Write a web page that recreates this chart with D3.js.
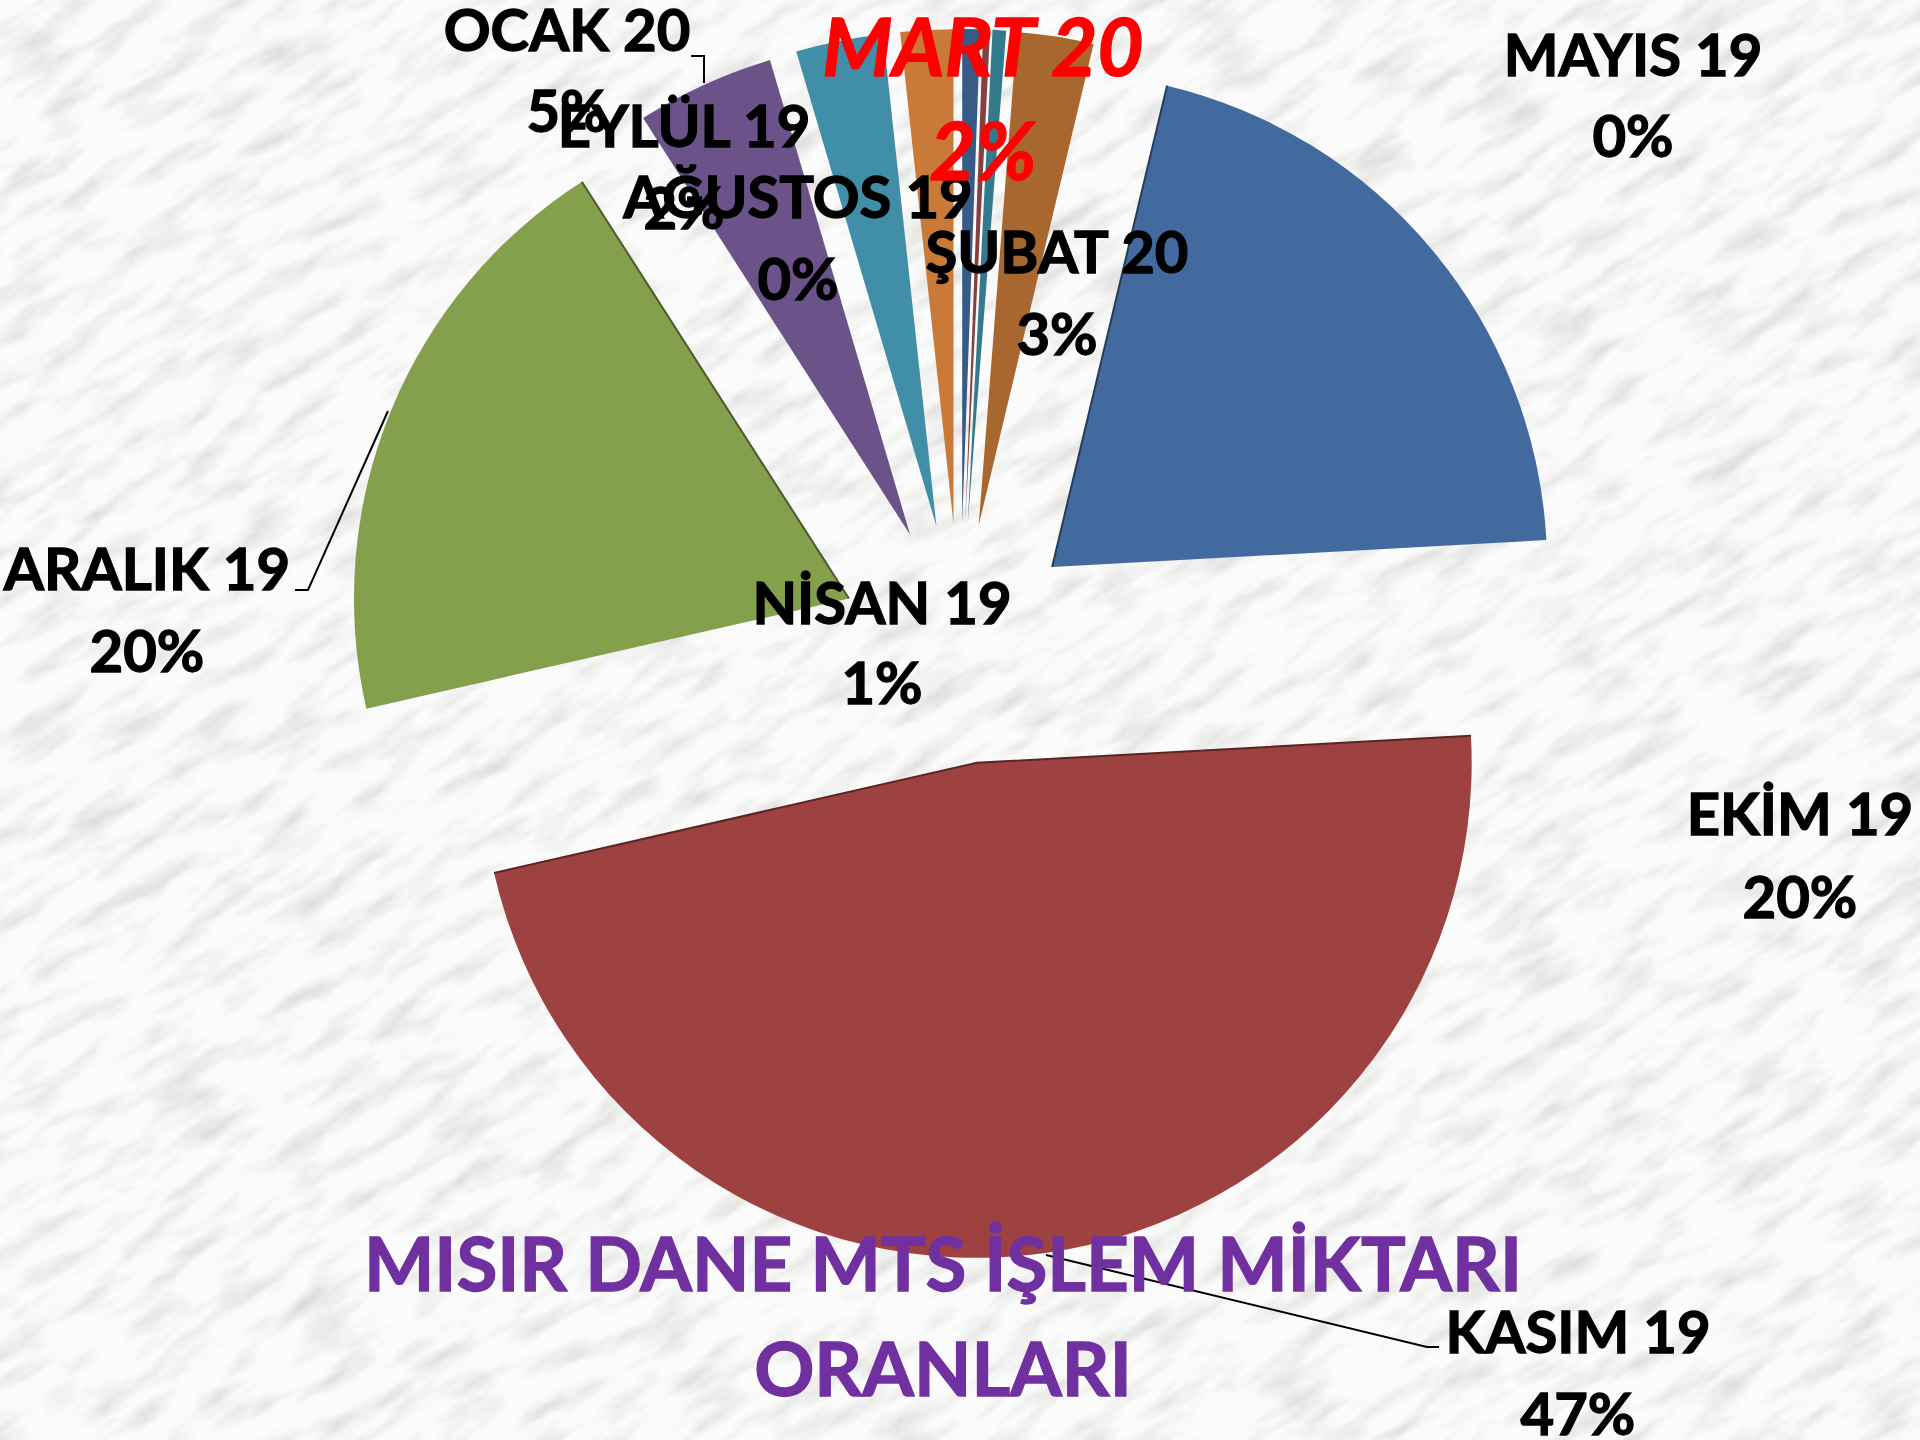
<!DOCTYPE html>
<html>
<head>
<meta charset="utf-8">
<script src="https://cdn.jsdelivr.net/npm/d3@7"></script>
<style>
  html, body { margin: 0; padding: 0; background: #f8f8f7; }
  svg { display: block; }
  text { font-family: Lato, "Open Sans", sans-serif; font-weight: 700; text-anchor: middle; }
</style>
</head>
<body>
<svg id="chart" width="1920" height="1440"></svg>
<script>
// chart data, clockwise from 12 o'clock
const months = ["NİSAN 19", "MAYIS 19", "AĞUSTOS 19", "EYLÜL 19", "EKİM 19", "KASIM 19", "ARALIK 19", "OCAK 20", "ŞUBAT 20", "MART 20"];
const shares = [0.58, 0.22, 0.44, 2.49, 20.4, 47.3, 19.5, 4.5, 2.85, 1.72];
const sliceColors = ["#375a87", "#843f3f", "#347a8d", "#a8672e", "#436a9e", "#9e4141", "#84a04c", "#6b5288", "#418ea8", "#ca7a38"];
const titleLines = ["MISIR DANE MTS İŞLEM MİKTARI", "ORANLARI"];

// label placement: [centre x, baseline of month, baseline of percent]
const labelPos = [
    [882, 624, 704],
    [1633, 76, 157],
    [798, 218, 300],
    [684, 147, 229],
    [1800, 835, 918],
    [1578, 1353, 1435],
    [147, 590, 672],
    [567, 51, 132],
    [1057, 273, 355],
    [983, 76, 180]
];

const leaders = [
    [[691, 56], [704, 56], [704, 83]],
    [[295, 590], [308, 590], [388, 411]],
    [[1439, 1347], [1427, 1347], [1046, 1255]]
];

const cx = 960, cy = 644;
const radius = 495;
const explode = 120;   // every slice is pulled out by the same distance

const svg = d3.select("#chart");

// marble background
const defs = svg.append("defs");
const marble = defs.append("filter")
    .attr("id", "marble")
    .attr("x", 0).attr("y", 0).attr("width", "100%").attr("height", "100%")
    .attr("color-interpolation-filters", "sRGB");
marble.append("feTurbulence")
    .attr("type", "fractalNoise")
    .attr("baseFrequency", "0.014 0.05")
    .attr("numOctaves", 5)
    .attr("seed", 11);
marble.append("feColorMatrix")
    .attr("type", "matrix")
    .attr("values", "0 0 0 0 0.72  0 0 0 0 0.72  0 0 0 0 0.70  1 0 0 0 -0.46");
marble.append("feGaussianBlur").attr("stdDeviation", 1.1);

svg.append("rect").attr("width", 1920).attr("height", 1440).attr("fill", "#fbfbfb");
svg.append("rect")
    .attr("x", -600).attr("y", -900)
    .attr("width", 3200).attr("height", 3200)
    .attr("transform", "rotate(-32 960 720)")
    .attr("filter", "url(#marble)");

// pie
const pie = d3.pie().sort(null).value(d => d.share).startAngle(0).endAngle(2 * Math.PI);
const arc = d3.arc().innerRadius(0).outerRadius(radius);
const slices = pie(months.map((m, i) => ({ month: m, share: shares[i], color: sliceColors[i] })));

const slice = svg.append("g")
    .selectAll("g")
    .data(slices)
    .join("g")
    .attr("transform", d => {
        const mid = (d.startAngle + d.endAngle) / 2;
        return `translate(${cx + explode * Math.sin(mid)},${cy - explode * Math.cos(mid)})`;
    });

slice.append("path")
    .attr("d", arc)
    .attr("fill", d => d.data.color);

// the big slices have a darker rim on their straight edges
const rim = d3.line();
slice.filter(d => d.data.share > 15)
    .append("path")
    .attr("d", d => {
        const pts = [];
        if (d.data.month !== "ARALIK 19") pts.push([radius * Math.sin(d.startAngle), -radius * Math.cos(d.startAngle)]);
        pts.push([0, 0]);
        if (d.data.month !== "EKİM 19") pts.push([radius * Math.sin(d.endAngle), -radius * Math.cos(d.endAngle)]);
        return rim(pts);
    })
    .attr("fill", "none")
    .attr("stroke", d => d3.color(d.data.color).darker(1.6))
    .attr("stroke-width", 2);

// leader lines
svg.append("g")
    .selectAll("path")
    .data(leaders)
    .join("path")
    .attr("d", rim)
    .attr("fill", "none")
    .attr("stroke", "#000")
    .attr("stroke-width", 2);

// data labels
const labelColor = d => d.data.month === "MART 20" ? "#ff0000" : "#000";
const label = svg.append("g")
    .selectAll("g")
    .data(slices)
    .join("g")
    .attr("fill", labelColor)
    .attr("stroke", labelColor)
    .attr("stroke-width", 1.3)
    .attr("font-style", d => d.data.month === "MART 20" ? "italic" : "normal")
    .attr("font-size", d => d.data.month === "MART 20" ? 80 : 58);

label.append("text")
    .attr("x", (d, i) => labelPos[i][0])
    .attr("y", (d, i) => labelPos[i][1])
    .text(d => d.data.month);

label.append("text")
    .attr("x", (d, i) => labelPos[i][0])
    .attr("y", (d, i) => labelPos[i][2])
    .text(d => Math.round(d.data.share) + "%");

// title
svg.append("g")
    .selectAll("text")
    .data(titleLines)
    .join("text")
    .attr("x", 943)
    .attr("y", (d, i) => 1291 + i * 105)
    .attr("fill", "#7030a0")
    .attr("stroke", "#7030a0")
    .attr("stroke-width", 1.3)
    .attr("font-size", 74.5)
    .text(d => d);
</script>
</body>
</html>
